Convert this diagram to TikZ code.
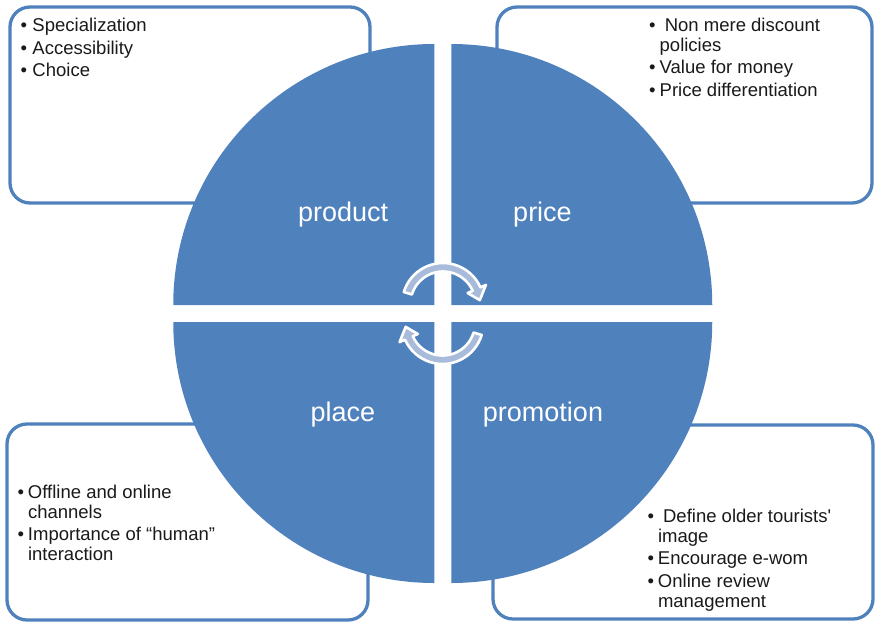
\documentclass[tikz,border=0pt]{standalone}
\usepackage{fontspec}
\setmainfont{Liberation Sans}
\usetikzlibrary{calc}
\definecolor{accent}{HTML}{4F81BD}
\definecolor{arrowfill}{HTML}{A8BBDA}
\definecolor{txt}{HTML}{1A1A1A}
\newcommand\bul[1][10.5pt]{\makebox[#1][l]{•}}
\begin{document}
\begin{tikzpicture}[x=1pt,y=-1pt,
  infobox/.style={draw=accent, line width=3.3pt, rounded corners=20pt, fill=white, inner sep=0pt, outer sep=0pt},
  quad/.style={fill=accent},
  qlabel/.style={text=white, font=\fontsize{27}{32}\selectfont, anchor=base, inner sep=0pt},
  bullets/.style={text=txt, font=\fontsize{18.5}{19.7}\selectfont, anchor=base west, inner sep=0pt},
  cyclearrow/.style={fill=arrowfill, draw=white, line width=2.6pt, line join=round}]
\useasboundingbox (0,0) rectangle (876,622);

% info boxes
\node[infobox, minimum width=360pt, minimum height=196pt] (boxTL) at (190,105) {};
\node[infobox, minimum width=375pt, minimum height=196pt] (boxTR) at (684.5,105) {};
\node[infobox, minimum width=361pt, minimum height=196pt] (boxBL) at (187.5,522) {};
\node[infobox, minimum width=380pt, minimum height=194pt] (boxBR) at (683,522) {};

% quadrants
\coordinate (qTL) at (434.25,305);
\coordinate (qTR) at (451.25,305);
\coordinate (qBL) at (434.25,322);
\coordinate (qBR) at (451.25,322);
\fill[quad] (qTL) -- ++(-261,0) arc[start angle=180, end angle=270, radius=261] -- cycle;
\fill[quad] (qTR) -- ++(0,-261) arc[start angle=270, end angle=360, radius=261] -- cycle;
\fill[quad] (qBR) -- ++(261,0) arc[start angle=0, end angle=90, radius=261] -- cycle;
\fill[quad] (qBL) -- ++(0,261) arc[start angle=90, end angle=180, radius=261] -- cycle;

% quadrant labels
\node[qlabel] (lproduct) at (343.2,221) {product};
\node[qlabel] (lprice) at (542.5,221) {price};
\node[qlabel] (lplace) at (343,421) {place};
\node[qlabel] (lpromotion) at (543,421) {promotion};

% cycle arrows
\coordinate (c1) at (443,304);
\coordinate (c2) at (442.5,323);
\path[cyclearrow] ($(c1)+(197:41)$) arc[start angle=197, end angle=336, radius=41]
  -- ($(c1)+(336:47)$) -- ($(c1)+(354:37)$) -- ($(c1)+(336:27)$)
  -- ($(c1)+(336:32.5)$) arc[start angle=336, end angle=197, radius=32.5] -- cycle;
\path[cyclearrow] ($(c2)+(17:41)$) arc[start angle=17, end angle=156, radius=41]
  -- ($(c2)+(156:47)$) -- ($(c2)+(174:37)$) -- ($(c2)+(156:27)$)
  -- ($(c2)+(156:32.5)$) arc[start angle=156, end angle=17, radius=32.5] -- cycle;

% bullet texts
\node[bullets] (tTL) at (20.5,31.5) {\begin{tabular}[t]{@{}l@{}l@{}}
\bul[11.8pt] & Specialization\\[2.9pt]
\bul[11.8pt] & Accessibility\\[2.9pt]
\bul[11.8pt] & Choice
\end{tabular}};
\node[bullets] (tTR) at (649,31.5) {\begin{tabular}[t]{@{}l@{}l@{}}
\bul & \ Non mere discount\\
 & policies\\[2.8pt]
\bul & Value for money\\[2.8pt]
\bul & Price differentiation
\end{tabular}};
\node[bullets] (tBL) at (17.3,498.3) {\begin{tabular}[t]{@{}l@{}l@{}}
\bul & Offline and online\\
 & channels\\[2.6pt]
\bul & Importance of “human”\\
 & interaction
\end{tabular}};
\node[bullets] (tBR) at (647.3,522.7) {\begin{tabular}[t]{@{}l@{}l@{}}
\bul[10.5pt] & \ Define older tourists\textquotesingle\\
 & image\\[2.8pt]
\bul[10.5pt] & Encourage e-wom\\[2.8pt]
\bul[10.5pt] & Online review\\
 & management
\end{tabular}};
\end{tikzpicture}
\end{document}
